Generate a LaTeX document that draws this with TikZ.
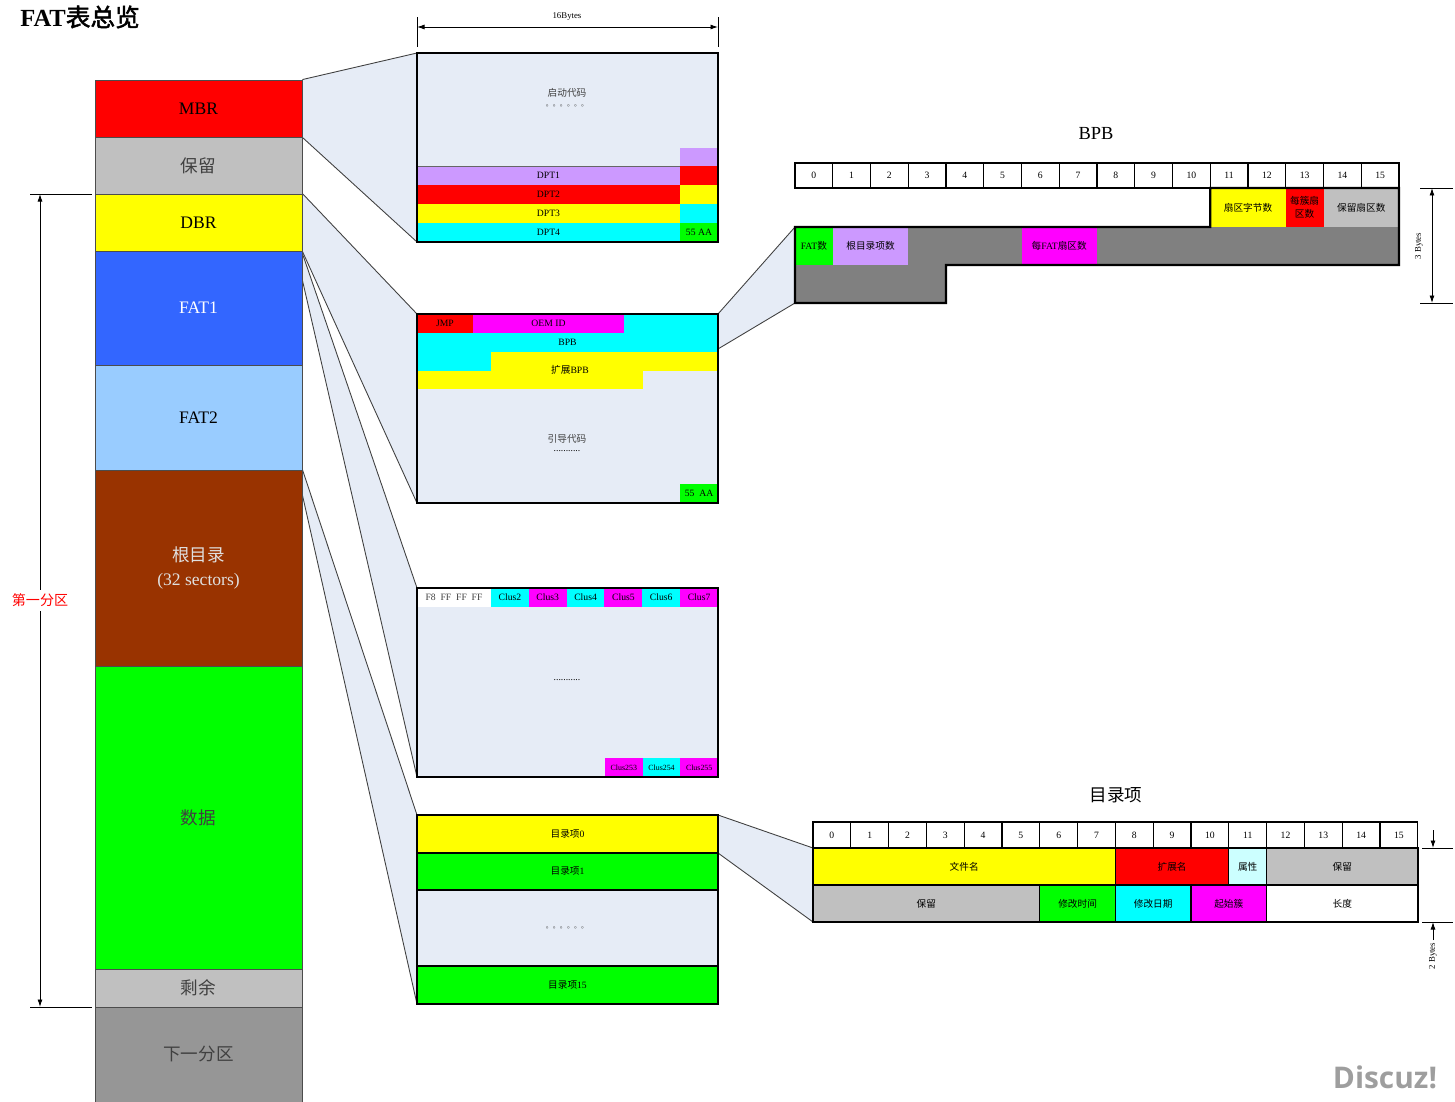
\documentclass[tikz,border=0pt]{standalone}
\usepackage{fontspec}
\setmainfont{Liberation Serif}
\newfontfamily\cjk{Noto Sans CJK SC}
\newfontfamily\cjkbold{Noto Sans CJK SC}[FakeBold=2]
\newfontfamily\wmfont{Open Sans}
\usetikzlibrary{arrows.meta,calc,backgrounds}
\definecolor{panel}{RGB}{230,236,246}
\definecolor{mbrred}{RGB}{255,0,0}
\definecolor{silver}{RGB}{192,192,192}
\definecolor{dbryellow}{RGB}{255,255,0}
\definecolor{fatblue}{RGB}{51,102,255}
\definecolor{fatlight}{RGB}{153,204,255}
\definecolor{rootbrown}{RGB}{153,51,0}
\definecolor{datagreen}{RGB}{0,255,0}
\definecolor{nextgray}{RGB}{150,150,150}
\definecolor{dptpurple}{RGB}{204,153,255}
\definecolor{bpbgray}{RGB}{128,128,128}
\definecolor{attrcyan}{RGB}{204,255,255}
\definecolor{aqua}{RGB}{0,255,255}
\definecolor{fuchsia}{RGB}{255,0,255}
\definecolor{textgray}{RGB}{64,64,64}
\newcommand{\zh}[1]{{\cjk #1}}
% block from corner (x1,y1) to (x2,y2), in pixels of the layout
\newcommand{\blk}[7][seg]{%
  \pgfmathsetmacro\bw{(#5-#3)*0.02}%
  \pgfmathsetmacro\bh{(#6-#4)*0.02}%
  \node[#1, minimum width=\bw cm, minimum height=\bh cm] (#2) at ({(#3+#5)/2},{(#4+#6)/2}) {#7};}
\tikzset{
  seg/.style={draw=gray!60!black, line width=0.5pt, inner sep=0pt, align=center,
    font=\fontsize{10}{13.5}\selectfont},
  field/.style={inner sep=0pt, outer sep=0pt, align=center, font=\fontsize{5.5}{6.5}\selectfont},
  cell/.style={field, draw=black, line width=0.6pt},
  boxframe/.style={draw=black, line width=0.7pt},
  projline/.style={draw=black!75, line width=0.5pt},
  dimarrow/.style={{Latex[length=1.5mm,width=1mm]}-{Latex[length=1.5mm,width=1mm]}, line width=0.5pt},
  onearrow/.style={-{Latex[length=1.5mm,width=1mm]}, line width=0.5pt},
  dimtext/.style={inner sep=1pt, font=\fontsize{5}{6}\selectfont}
}
\begin{document}
\begin{tikzpicture}[x=0.02cm, y=-0.02cm]
  \useasboundingbox (0,0) rectangle (1455,1102);

  \node[anchor=west, inner sep=0pt] (title) at (20,17) {\fontsize{14}{15}\selectfont{\bfseries FAT}{\cjkbold 表总览}};

  % partition layout
  \blk[seg, fill=mbrred]{mbr}{95}{80}{302}{137}{MBR}
  \blk[seg, fill=silver, text=textgray]{rsv}{95}{137}{302}{194}{\zh{保留}}
  \blk[seg, fill=dbryellow]{dbr}{95}{194}{302}{251}{DBR}
  \blk[seg, fill=fatblue, text=white]{fat1}{95}{251}{302}{365}{FAT1}
  \blk[seg, fill=fatlight]{fat2}{95}{365}{302}{470}{FAT2}
  \blk[seg, fill=rootbrown, text=white!88!black]{root}{95}{470}{302}{666}{\zh{根目录}\\(32 sectors)}
  \blk[seg, fill=datagreen, text=textgray]{data}{95}{666}{302}{969}{\zh{数据}}
  \blk[seg, fill=silver, text=textgray]{rest}{95}{969}{302}{1007}{\zh{剩余}}
  \blk[seg, fill=nextgray, text=textgray]{next}{95}{1007}{302}{1102}{\zh{下一分区}}

  % first partition span
  \coordinate (ptop) at (30,194);
  \coordinate (pbot) at (30,1007);
  \coordinate (pa) at (40,194);
  \coordinate (pb) at (40,1007);
  \draw[line width=0.5pt] (ptop) -- (92,194);
  \draw[line width=0.5pt] (pbot) -- (92,1007);
  \draw[dimarrow] (pa) -- (pb) node[midway, fill=white, text=red, inner sep=2pt,
    font=\cjk\fontsize{8}{9}\selectfont] (p1lbl) {第一分区};

  % MBR sector
  \blk[field, fill=panel]{mbrbox}{417}{53}{718}{242}{}
  \node[field, text=textgray] (boot) at (567,93) {\zh{启动代码}};
  \node[field, text=textgray, font=\cjk\fontsize{4}{5}\selectfont] (bootdots) at (567,106) {。。。。。。};
  \blk[field, fill=dptpurple]{dptpad}{680}{148}{718}{166}{}
  \blk[field, fill=dptpurple]{dpt1}{417}{166}{680}{185}{DPT1}
  \blk[field, fill=mbrred]{dpt1e}{680}{166}{718}{185}{}
  \blk[field, fill=mbrred]{dpt2}{417}{185}{680}{204}{DPT2}
  \blk[field, fill=dbryellow]{dpt2e}{680}{185}{718}{204}{}
  \blk[field, fill=dbryellow]{dpt3}{417}{204}{680}{223}{DPT3}
  \blk[field, fill=aqua]{dpt3e}{680}{204}{718}{223}{}
  \blk[field, fill=aqua]{dpt4}{417}{223}{680}{242}{DPT4}
  \blk[field, fill=datagreen]{sig1}{680}{223}{718}{242}{55 AA}
  \draw[line width=0.4pt, black!60] (dpt1.north west) -- (dpt1.north east);
  \draw[boxframe] (mbrbox.north west) rectangle (mbrbox.south east);

  % sector width
  \coordinate (wl) at (417,17);
  \coordinate (wr) at (718,17);
  \draw[line width=0.5pt] (wl) -- (417,47);
  \draw[line width=0.5pt] (wr) -- (718,47);
  \draw[dimarrow] (417,27) -- (718,27);
  \node[dimtext] (wlbl) at (567,17) {16Bytes};

  % DBR sector
  \blk[field, fill=panel]{dbrbox}{417}{314}{718}{503}{}
  \blk[field, fill=mbrred]{jmp}{417}{314}{473}{333}{JMP}
  \blk[field, fill=fuchsia]{oem}{473}{314}{624}{333}{OEM ID}
  \blk[field, fill=aqua]{bpb0}{624}{314}{718}{333}{}
  \blk[field, fill=aqua]{bpb1}{417}{333}{718}{352}{BPB}
  \blk[field, fill=aqua]{bpb2}{417}{352}{491}{371}{}
  \blk[field, fill=dbryellow]{ext1}{491}{352}{718}{371}{}
  \blk[field, fill=dbryellow]{ext2}{417}{371}{643}{389}{}
  \node[field] (extlbl) at (570,370) {\zh{扩展}BPB};
  \node[field, text=textgray] (guide) at (567,439) {\zh{引导代码}};
  \node[field] (guidedots) at (567,451) {...........};
  \blk[field, fill=datagreen]{sig2}{680}{484}{718}{503}{55\enspace AA}
  \draw[boxframe] (dbrbox.north west) rectangle (dbrbox.south east);

  % FAT sector
  \blk[field, fill=panel]{fatbox}{417}{588}{718}{777}{}
  \blk[field, fill=white, text=textgray]{media}{417}{588}{491}{607}{F8\enspace FF\enspace FF\enspace FF}
  \foreach \n/\c [count=\k from 0] in {2/aqua,3/fuchsia,4/aqua,5/fuchsia,6/aqua,7/fuchsia}{
    \pgfmathsetmacro\xa{491+\k*37.83}
    \pgfmathsetmacro\xb{\xa+37.83}
    \blk[field, fill=\c]{clus\n}{\xa}{588}{\xb}{607}{Clus\n}
  }
  \foreach \n/\c [count=\k from 0] in {253/fuchsia,254/aqua,255/fuchsia}{
    \pgfmathsetmacro\xa{605+\k*37.67}
    \pgfmathsetmacro\xb{\xa+37.67}
    \blk[field, fill=\c, font=\fontsize{4.5}{5}\selectfont]{clus\n}{\xa}{758}{\xb}{777}{Clus\n}
  }
  \node[field] (fatdots) at (567,680) {...........};
  \draw[boxframe] (fatbox.north west) rectangle (fatbox.south east);

  % root directory sector
  \blk[field, fill=panel]{dirbox}{417}{815}{718}{1004}{}
  \blk[cell, fill=dbryellow]{ent0}{417}{815}{718}{853}{\zh{目录项}0}
  \blk[cell, fill=datagreen]{ent1}{417}{853}{718}{890}{\zh{目录项}1}
  \node[field, text=textgray, font=\cjk\fontsize{4}{5}\selectfont] (entdots) at (567,928) {。。。。。。};
  \blk[cell, fill=datagreen]{ent15}{417}{966}{718}{1004}{\zh{目录项}15}
  \draw[boxframe] (dirbox.north west) rectangle (dirbox.south east);

  % BPB
  \node[font=\fontsize{10.5}{12}\selectfont] (bpbtitle) at (1096,133) {BPB};
  \foreach \i in {0,...,15}{
    \pgfmathsetmacro\xa{795+\i*37.75}
    \pgfmathsetmacro\xb{\xa+37.75}
    \blk[cell]{bh\i}{\xa}{163}{\xb}{188}{\i}
  }
  \blk[field, fill=dbryellow, font=\cjk\fontsize{5.5}{6.5}\selectfont]{bsec}{1210.25}{188}{1285.75}{227}{扇区字节数}
  \blk[field, fill=mbrred, font=\cjk\fontsize{5.5}{7.5}\selectfont]{bclus}{1285.75}{188}{1323.5}{227}{每簇扇\\区数}
  \blk[field, fill=silver, font=\cjk\fontsize{5.5}{6.5}\selectfont]{bres}{1323.5}{188}{1399}{227}{保留扇区数}
  \blk[field, fill=datagreen]{bfat}{795}{227}{832.75}{265}{FAT\zh{数}}
  \blk[field, fill=dptpurple, font=\cjk\fontsize{5.5}{6.5}\selectfont]{broot}{832.75}{227}{908.25}{265}{根目录项数}
  \blk[field, fill=bpbgray]{bg1}{908.25}{227}{1021.5}{265}{}
  \blk[field, fill=fuchsia]{bper}{1021.5}{227}{1097}{265}{\zh{每}FAT\zh{扇区数}}
  \blk[field, fill=bpbgray]{bg2}{1097}{227}{1399}{265}{}
  \blk[field, fill=bpbgray]{bg3}{795}{265}{946}{303}{}
  \draw[line width=1.2pt] (bfat.north west) -- (bsec.south west) -- (bsec.north west)
    -- (bres.north east) -- (bg2.south east) -- (bg3.north east) -- (bg3.south east)
    -- (bg3.south west) -- cycle;

  % BPB height
  \coordinate (b3t) at (1420,188);
  \coordinate (b3b) at (1420,303);
  \draw[line width=0.5pt] (b3t) -- (1453,188);
  \draw[line width=0.5pt] (b3b) -- (1453,303);
  \draw[dimarrow] (1432,188) -- (1432,303);
  \node[dimtext, rotate=90] (b3lbl) at (1419,246) {3 Bytes};

  % directory entry
  \node[font=\cjk\fontsize{10}{12}\selectfont] (dirtitle) at (1116,795) {目录项};
  \foreach \i in {0,...,15}{
    \pgfmathsetmacro\xa{813+\i*37.8}
    \pgfmathsetmacro\xb{\xa+37.8}
    \blk[cell]{dh\i}{\xa}{822}{\xb}{848}{\i}
  }
  \tikzset{entry/.style={cell, font=\cjk\fontsize{5.5}{6.5}\selectfont}}
  \blk[entry, fill=dbryellow]{fname}{813}{848}{1115.4}{885}{文件名}
  \blk[entry, fill=mbrred]{fext}{1115.4}{848}{1228.8}{885}{扩展名}
  \blk[entry, fill=attrcyan]{fattr}{1228.8}{848}{1266.6}{885}{属性}
  \blk[entry, fill=silver]{fres1}{1266.6}{848}{1418}{885}{保留}
  \blk[entry, fill=silver]{fres2}{813}{885}{1039.8}{922}{保留}
  \blk[entry, fill=datagreen]{fmtime}{1039.8}{885}{1115.4}{922}{修改时间}
  \blk[entry, fill=aqua]{fmdate}{1115.4}{885}{1191}{922}{修改日期}
  \blk[entry, fill=fuchsia]{fclus}{1191}{885}{1266.6}{922}{起始簇}
  \blk[entry, fill=white]{flen}{1266.6}{885}{1418}{922}{长度}

  % entry height
  \coordinate (e2t) at (1422,848);
  \coordinate (e2b) at (1422,922);
  \draw[line width=0.5pt] (e2t) -- (1453,848);
  \draw[line width=0.5pt] (e2b) -- (1453,922);
  \draw[onearrow] (1433,830) -- (1433,848);
  \draw[onearrow] (1433,940) -- (1433,922);
  \node[dimtext, rotate=90] (b2lbl) at (1433,956) {2 Bytes};

  \node[font=\wmfont\bfseries\fontsize{17}{18}\selectfont, text=black!38] (wm) at (1385,1077) {Discuz!};

  % zoom wedges
  \begin{scope}[on background layer]
    \fill[panel] (mbr.north east) -- (mbrbox.north west) -- (mbrbox.south west) -- (mbr.south east) -- cycle;
    \draw[projline] (mbr.north east) -- (mbrbox.north west);
    \draw[projline] (mbr.south east) -- (mbrbox.south west);
    \fill[panel] (dbr.north east) -- (dbrbox.north west) -- (dbrbox.south west) -- (dbr.south east) -- cycle;
    \draw[projline] (dbr.north east) -- (dbrbox.north west);
    \draw[projline] (dbr.south east) -- (dbrbox.south west);
    \coordinate (fatlow) at ($(fat1.north east)!0.26!(fat1.south east)$);
    \fill[panel] ($(fat1.north east)+(0,3)$) -- (fatbox.north west) -- (fatbox.south west) -- (fatlow) -- cycle;
    \draw[projline] ($(fat1.north east)+(0,3)$) -- (fatbox.north west);
    \draw[projline] (fatlow) -- (fatbox.south west);
    \coordinate (rootlow) at ($(root.north east)!0.13!(root.south east)$);
    \fill[panel] (root.north east) -- (dirbox.north west) -- (dirbox.south west) -- (rootlow) -- cycle;
    \draw[projline] (root.north east) -- (dirbox.north west);
    \draw[projline] (rootlow) -- (dirbox.south west);
    \coordinate (dbrlow) at ($(dbrbox.north east)!0.185!(dbrbox.south east)$);
    \fill[panel] (dbrbox.north east) -- (bfat.north west) -- (bg3.south west) -- (dbrlow) -- cycle;
    \draw[projline] (dbrbox.north east) -- (bfat.north west);
    \draw[projline] (dbrlow) -- (bg3.south west);
    \fill[panel] (dirbox.north east) -- (fname.north west) -- (fres2.south west) -- (ent1.north east) -- cycle;
    \draw[projline] (dirbox.north east) -- (fname.north west);
    \draw[projline] (ent1.north east) -- (fres2.south west);
  \end{scope}
\end{tikzpicture}
\end{document}
